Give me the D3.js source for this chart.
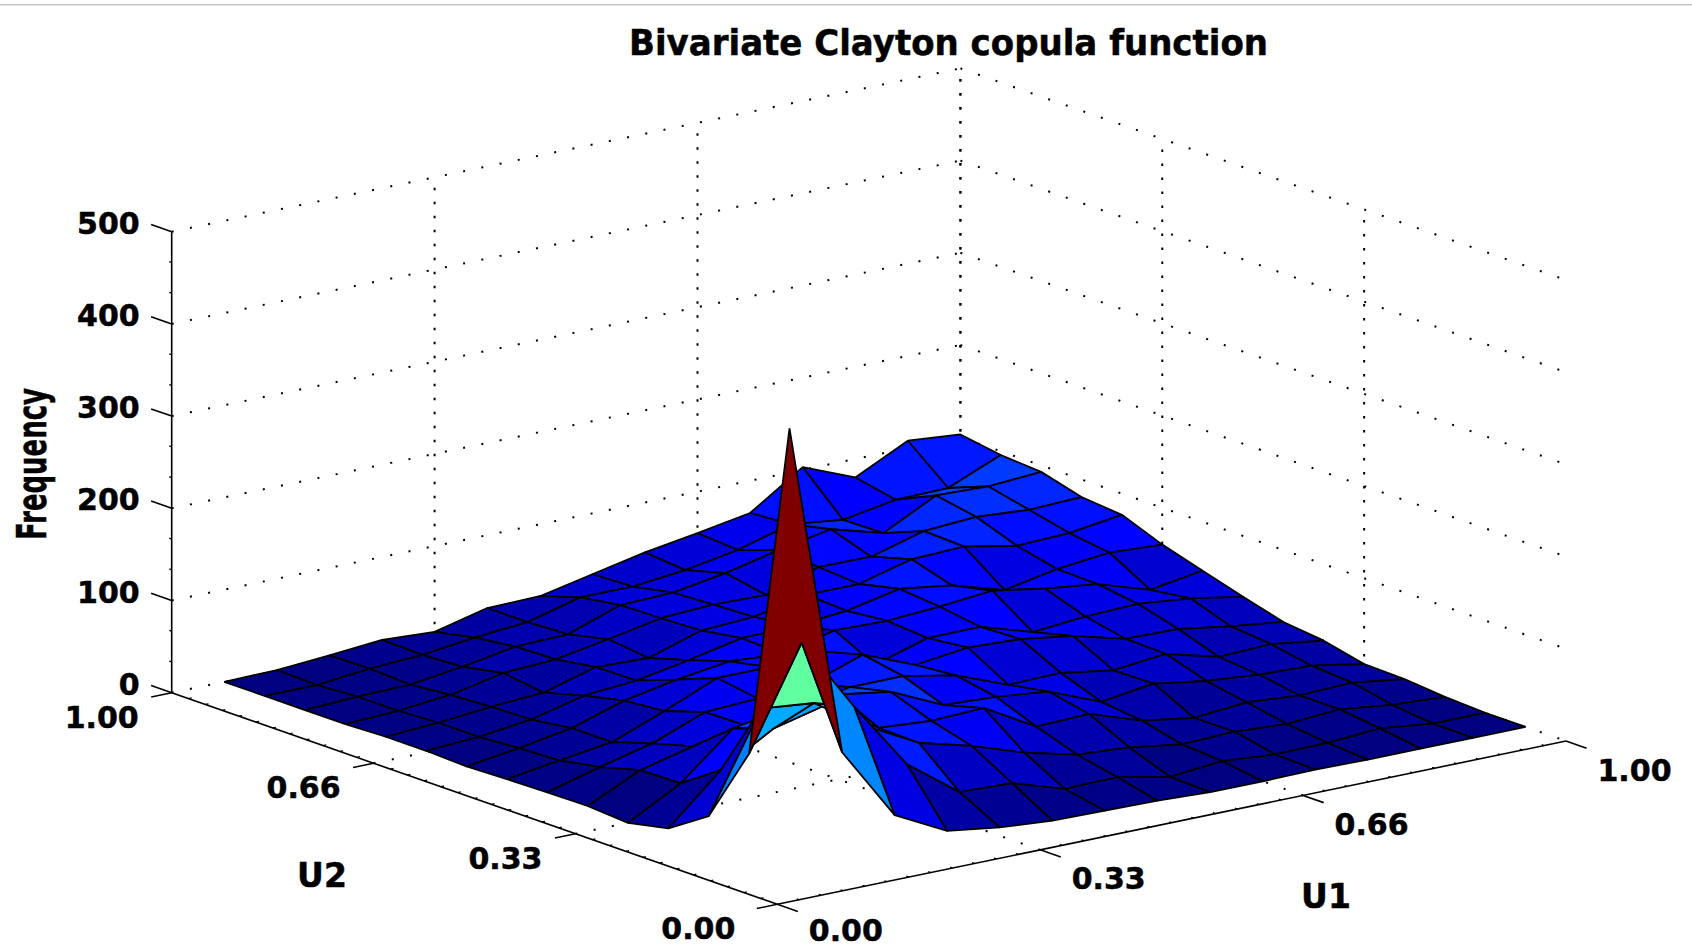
<!DOCTYPE html>
<html>
<head>
<meta charset="utf-8">
<title>Bivariate Clayton copula function</title>
<script src="https://cdn.jsdelivr.net/npm/d3@7/dist/d3.min.js"></script>
<style>
html,body{margin:0;padding:0;background:#fff;}
svg{display:block;}
text{font-family:"DejaVu Sans",sans-serif;font-weight:bold;fill:#000;stroke:#000;stroke-width:0.5px;}
</style>
</head>
<body>
<svg id="chart" width="1692" height="948"></svg>
<script>
// ---- data: chart values ----
const titleText = "Bivariate Clayton copula function";
const u1Label = "U1", u2Label = "U2", zLabel = "Frequency";
const uTicks = [0, 1/3, 2/3, 1];
const uTickLabels = ["0.00", "0.33", "0.66", "1.00"];
const zTicks = [0, 100, 200, 300, 400, 500];
const binCenters = [1,2,3,4,5,6,7,8,9,10,11,12,13,14,15].map(k => k / 15);
// frequency per U1 bin, one array per U2 bin
const u2bin01 = [489,126,46,17,9,4.5,3.6,2.6,0,0,1,0,0,0,0];
const u2bin02 = [121,229.5,148,74,32,30,12,13,1.4,6.6,2,2.8,6.7,0,0];
const u2bin03 = [38,143,137,100,70,55,36,22,18,9.5,11.4,8,12,5,2];
const u2bin04 = [9.4,61,94,108,71,67,69,37,39,20,11,16,12,14,6];
const u2bin05 = [0,31,79,89,92,83,57,54,48,25,33,24,19,17,7];
const u2bin06 = [3,30,44,55,62,73,73,62,40,41,32,38,23,25,17];
const u2bin07 = [2.5,18,32,54,57,61,81,58,65,62.5,54,39,38,29,22];
const u2bin08 = [1.6,10,18,40,64,64,69,43,60,60.5,43,48,50,44,34];
const u2bin09 = [0,8,18,36,47,55,51,65,63.5,67,72.5,63,56,38,47];
const u2bin10 = [1.7,5,12,26,30.5,41,53,54,59,71,63,46,57,63,60];
const u2bin11 = [1.6,5,10.5,14,30,28,46,49,61,61,76,78,67,69,77];
const u2bin12 = [0,2.7,8,20,23,33,44,47,45.5,64,63.5,79.5,83,79,81];
const u2bin13 = [0,2.6,4,11.5,21.5,23,43,44.6,54,67,78,62,91,89,93];
const u2bin14 = [0,0,6,9,16,21,36,36,42,52,68,61,71,72,96];
const u2bin15 = [0,1,5,10,7,21,22,34,46,55,65,103,80,108,103];
const freq = [u2bin01,u2bin02,u2bin03,u2bin04,u2bin05,u2bin06,u2bin07,u2bin08,
              u2bin09,u2bin10,u2bin11,u2bin12,u2bin13,u2bin14,u2bin15];

// ---- oblique projection built from scales ----
const front = {x: 777.3, y: 904.3};
const u1X = d3.scaleLinear().domain([0,1]).range([0, 788.7]);
const u1Y = d3.scaleLinear().domain([0,1]).range([0,-163.3]);
const u2X = d3.scaleLinear().domain([0,1]).range([0,-605.6]);
const u2Y = d3.scaleLinear().domain([0,1]).range([0,-211.6]);
const zY  = d3.scaleLinear().domain([0,500]).range([0,-461]);
const project = (a, b, z=0) => [front.x + u1X(a) + u2X(b), front.y + u1Y(a) + u2Y(b) + zY(z)];

const zMax = d3.max(freq, r => d3.max(r));
const jet = d3.scaleLinear()
  .domain([0,.125,.375,.625,.875,1].map(t => t * zMax))
  .range(["#000080","#0000ff","#00ffff","#ffff00","#ff0000","#800000"])
  .clamp(true);

const svg = d3.select("#chart");
const path = d3.line();

// top rule of the page capture
svg.append("rect").attr("x",0).attr("y",4).attr("width",1692).attr("height",1.5).attr("fill","#c4c4c4");

// dotted grid
const dottedH = svg.append("g").attr("fill","none").attr("stroke","#000").attr("stroke-width",2).attr("stroke-dasharray","2 16.6");
const dottedV = svg.append("g").attr("fill","none").attr("stroke","#000").attr("stroke-width",2).attr("stroke-dasharray","2.5 11.5");
const seg = (g, a, b) => g.append("path").attr("d", path([a, b]));
zTicks.forEach(z => {
  seg(dottedH, project(0,1,z), project(1,1,z));
  seg(dottedH, project(1,1,z), project(1,0,z));
});
uTicks.slice(1).forEach(t => {
  seg(dottedV, project(t,1,0), project(t,1,500));
  if (t < 1) seg(dottedH, project(t,0,0), project(t,1,0));
  seg(dottedV, project(1,t,0), project(1,t,500));
  if (t < 1) seg(dottedH, project(0,t,0), project(1,t,0));
});

// axes lines
const axes = svg.append("g").attr("fill","none").attr("stroke","#000").attr("stroke-width",1.6);
seg(axes, project(0,1,0), project(0,1,500));
seg(axes, project(0,1,0), project(0,0,0));
seg(axes, project(0,0,0), project(1,0,0));
// major ticks
zTicks.forEach(z => seg(axes, project(0,1,z), project(0,1.034,z)));
uTicks.forEach(t => {
  seg(axes, project(t,0,0), project(t,-0.034,0));
  seg(axes, project(0,t,0), project(-0.026,t,0));
});
// minor ticks
const minor = svg.append("g").attr("fill","none").attr("stroke","#000").attr("stroke-width",1.3);
d3.range(0,36).forEach(k => {
  const t = k/36; if (k % 12 === 0) return;
  seg(minor, project(t,0,0), project(t,0.004,0));
  seg(minor, project(0,t,0), project(0.004,t,0));
});
d3.range(0,15).forEach(k => {
  if (k % 3 === 0) return;
  const z = k * 100 / 3;
  seg(minor, project(0,1,z), project(0,1.004,z));
});

// surface: painter's order, back to front
const cells = [];
binCenters.slice(0,-1).forEach((a,i) => binCenters.slice(0,-1).forEach((b,j) => cells.push({a,b,i,j})));
cells.sort((p,q) => (q.i+q.j) - (p.i+p.j));
const a2 = i => binCenters[i], b2 = j => binCenters[j];
svg.append("g").selectAll("path").data(cells).join("path")
  .attr("d", c => path([
      project(a2(c.i),   b2(c.j),   freq[c.j][c.i]),
      project(a2(c.i+1), b2(c.j),   freq[c.j][c.i+1]),
      project(a2(c.i+1), b2(c.j+1), freq[c.j+1][c.i+1]),
      project(a2(c.i),   b2(c.j+1), freq[c.j+1][c.i])
    ]) + "Z")
  .attr("fill", c => jet(freq[c.j][c.i]))
  .attr("stroke","#000").attr("stroke-width",1.8).attr("stroke-linejoin","bevel");

// labels
const label = (txt, x, y, size, anchor, len) => {
  const t = svg.append("text").attr("x",x).attr("y",y).attr("font-size",size)
    .attr("text-anchor",anchor).attr("dominant-baseline","central").text(txt);
  if (len) t.attr("textLength",len).attr("lengthAdjust","spacingAndGlyphs");
  return t;
};
label(titleText, 948.5, 42, 36, "middle", 639);
zTicks.forEach(z => {
  const p = project(0,1,z);
  label(String(z), p[0]-32, p[1]-8.5, 30, "end");
});
uTicks.forEach((t,i) => {
  const p = project(0,t,0);
  label(uTickLabels[i], p[0] - (t === 0 ? 42 : 33), p[1] + 24.5, 30, "end");
  const q = project(t,0,0);
  label(uTickLabels[i], q[0] + 68.5, q[1] + (t === 0 ? 26.5 : 29), 30, "middle");
});
label(u2Label, 322, 875, 33, "middle");
label(u1Label, 1326, 896, 33, "middle");
svg.append("text").attr("transform","translate(46,464) rotate(-90)")
  .attr("font-size",40).attr("text-anchor","middle")
  .attr("textLength",152).attr("lengthAdjust","spacingAndGlyphs").text(zLabel);
</script>
</body>
</html>
